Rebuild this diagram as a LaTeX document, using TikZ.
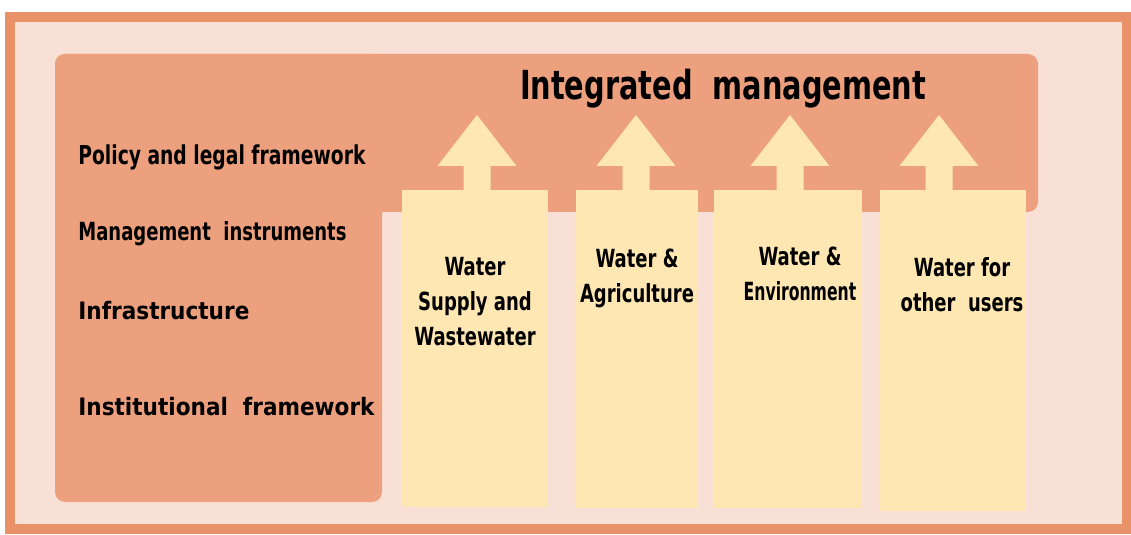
\documentclass[tikz,border=0pt]{standalone}
\usepackage{fontspec}
\setmainfont{DejaVu Sans Condensed}
\newfontfamily\narrowfont{DejaVu Sans Condensed}[FakeStretch=0.8]
\usetikzlibrary{positioning}
\definecolor{frameorange}{HTML}{E99268}
\definecolor{framefill}{HTML}{F9E0D6}
\definecolor{mgmtsalmon}{HTML}{EDA07E}
\definecolor{useryellow}{HTML}{FFE7B3}
\tikzset{
  usercol/.style={fill=useryellow, draw=none, anchor=north west, inner sep=0pt},
  coltext/.style={font=\narrowfont\bfseries\fontsize{12.5}{17.5}\selectfont, align=center, inner sep=0pt},
  lefttext/.style={font=\narrowfont\bfseries\fontsize{12.5}{14}\selectfont, anchor=west, inner sep=0pt},
}
\begin{document}
\begin{tikzpicture}[x=0.5pt, y=-0.5pt]
		\useasboundingbox (0,0) rectangle (1131,535);
		\filldraw[color=frameorange, fill=framefill, line width=5pt](10,17) rectangle (1126.5,528.5);
		% management area (band + left panel)
		\fill[mgmtsalmon, rounded corners=5pt] (55,54) rectangle (1038,212);
		\fill[mgmtsalmon, rounded corners=5pt] (55,54) rectangle (382,502);
		% user columns
		\node[usercol, minimum width=73pt, minimum height=158.5pt] (supply) at (402,190) {};
		\node[usercol, minimum width=61pt, minimum height=159pt] (agri) at (576,190) {};
		\node[usercol, minimum width=74pt, minimum height=159pt] (env) at (714,190) {};
		\node[usercol, minimum width=73pt, minimum height=160.5pt] (other) at (880,190) {};
		% arrows up
		\foreach \x in {477,636,790,939}
		  \fill[useryellow] (\x-13.5,192) -- (\x-13.5,166) -- (\x-39.5,166) -- (\x,115) -- (\x+39.5,166) -- (\x+13.5,166) -- (\x+13.5,192) -- cycle;
		\node[font=\narrowfont\bfseries\fontsize{20}{24}\selectfont, inner sep=0pt] (integ) at (723,89) {Integrated\ \ management};
		% left side labels
		\node[lefttext, font=\narrowfont\bfseries\fontsize{13}{15}\selectfont] (policy) at (78,157) {Policy and legal framework};
		\node[lefttext] (instr) at (78,234) {Management\ \ instruments};
		\node[lefttext, font=\bfseries\fontsize{12}{14}\selectfont] (infra) at (78,311) {Infrastructure};
		\node[lefttext, font=\bfseries\fontsize{12}{14}\selectfont] (inst) at (78,407) {Institutional\ \ framework};
		% column labels
		\node[coltext, anchor=north] (supplytxt) at (475,257) {Water\\Supply and\\Wastewater};
		\node[coltext, anchor=north] (agritxt) at (637,249) {Water \&\\Agriculture};
		\node[coltext, anchor=north] (envtxt) at (800,247) {Water \&\\\scalebox{0.87}[1]{Environment}};
		\node[coltext, anchor=north] (othertxt) at (962,257) {Water for\\other\ \ users};
		\end{tikzpicture}
\end{document}
